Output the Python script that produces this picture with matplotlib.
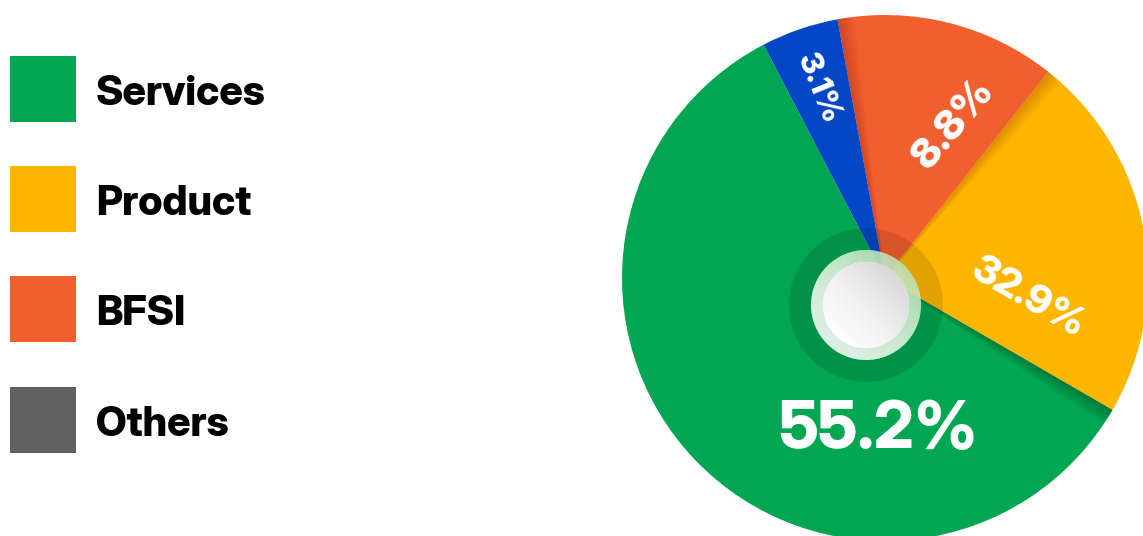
import numpy as np
import matplotlib.pyplot as plt
from matplotlib.patches import Rectangle, Circle, Wedge

# legend entries
categories = ['Services', 'Product', 'BFSI', 'Others']
legend_colors = ['#00a651', '#fdb600', '#f15f2e', '#616161']

# pie slices (the graphic is not drawn to scale, so the drawn angles are kept apart)
pie_shares = [55.2, 32.9, 8.8, 3.1]
drawn_deg = [212.4, 81.7, 48.8, 17.1]
pie_colors = ['#00a651', '#fdb600', '#f15f2e', '#0347c7']

FONT = ['Inter Display', 'Inter', 'DejaVu Sans']

W, H = 1143, 536
fig = plt.figure(figsize=(W / 100, H / 100), dpi=100)
ax = fig.add_axes([0, 0, 1, 1])

cx, cy, R = 885, H - 278, 263

wedges, _ = ax.pie(drawn_deg, colors=pie_colors, startangle=117.5,
                   counterclock=True, center=(cx, cy), radius=R,
                   wedgeprops=dict(linewidth=0))

# soft shadow at the leading edge of each slice
shadow = {0: '#00582a', 1: '#c56a00', 2: '#b8321a'}
for i, col in shadow.items():
    t2 = wedges[i].theta2
    for k in range(8):
        ax.add_patch(Wedge((cx, cy), R, t2 - (k + 1) * 0.45, t2 - k * 0.45,
                           facecolor=col, alpha=0.55 * (1 - k / 8), lw=0))

# percent labels: (x, y, size, rotation)
label_place = [(878, H - 431, 47, 0), (1028, H - 298, 29, -30),
               (954, H - 125, 30, 50), (818, H - 88, 23, -68)]
for share, (x, y, fs, rot) in zip(pie_shares, label_place):
    ax.text(x, y, f'{share}%', color='white', fontsize=fs, fontweight=800,
            family=FONT, ha='center', va='center', rotation=rot,
            rotation_mode='anchor')

# centre knob
kx, ky = 866, H - 305
ax.add_patch(Circle((kx, ky), 77, facecolor='black', alpha=0.11, lw=0))
ax.add_patch(Circle((kx, ky), 55, facecolor='white', alpha=0.72, lw=0))
ring = Circle((kx, ky), 55, facecolor='none', lw=0)
ax.add_patch(ring)
gx = np.linspace(-1, 1, 200)
g = (gx[None, :] - gx[:, None])
img = ax.imshow(g, cmap='Greens', vmin=-1.2, vmax=5, alpha=0.55,
                extent=(kx - 55, kx + 55, ky - 55, ky + 55), zorder=3)
img.set_clip_path(ring)
inner = Circle((kx, ky), 43, facecolor='white', lw=0, zorder=4)
ax.add_patch(inner)
img2 = ax.imshow(g, cmap='Greys', vmin=-1.5, vmax=10,
                 extent=(kx - 43, kx + 43, ky - 43, ky + 43), zorder=5)
img2.set_clip_path(inner)

# legend
row_top = [56, 166, 276, 387]
for name, col, top in zip(categories, legend_colors, row_top):
    ax.add_patch(Rectangle((10, H - top - 66), 66, 66, facecolor=col, lw=0))
    ax.text(96, H - top - 49, name, fontsize=29.5, fontweight=800,
            family=FONT, ha='left', va='baseline', color='black')

ax.set_xlim(0, W)
ax.set_ylim(0, H)
ax.set_aspect('equal')
ax.axis('off')

fig.savefig('out.png', dpi=100)
